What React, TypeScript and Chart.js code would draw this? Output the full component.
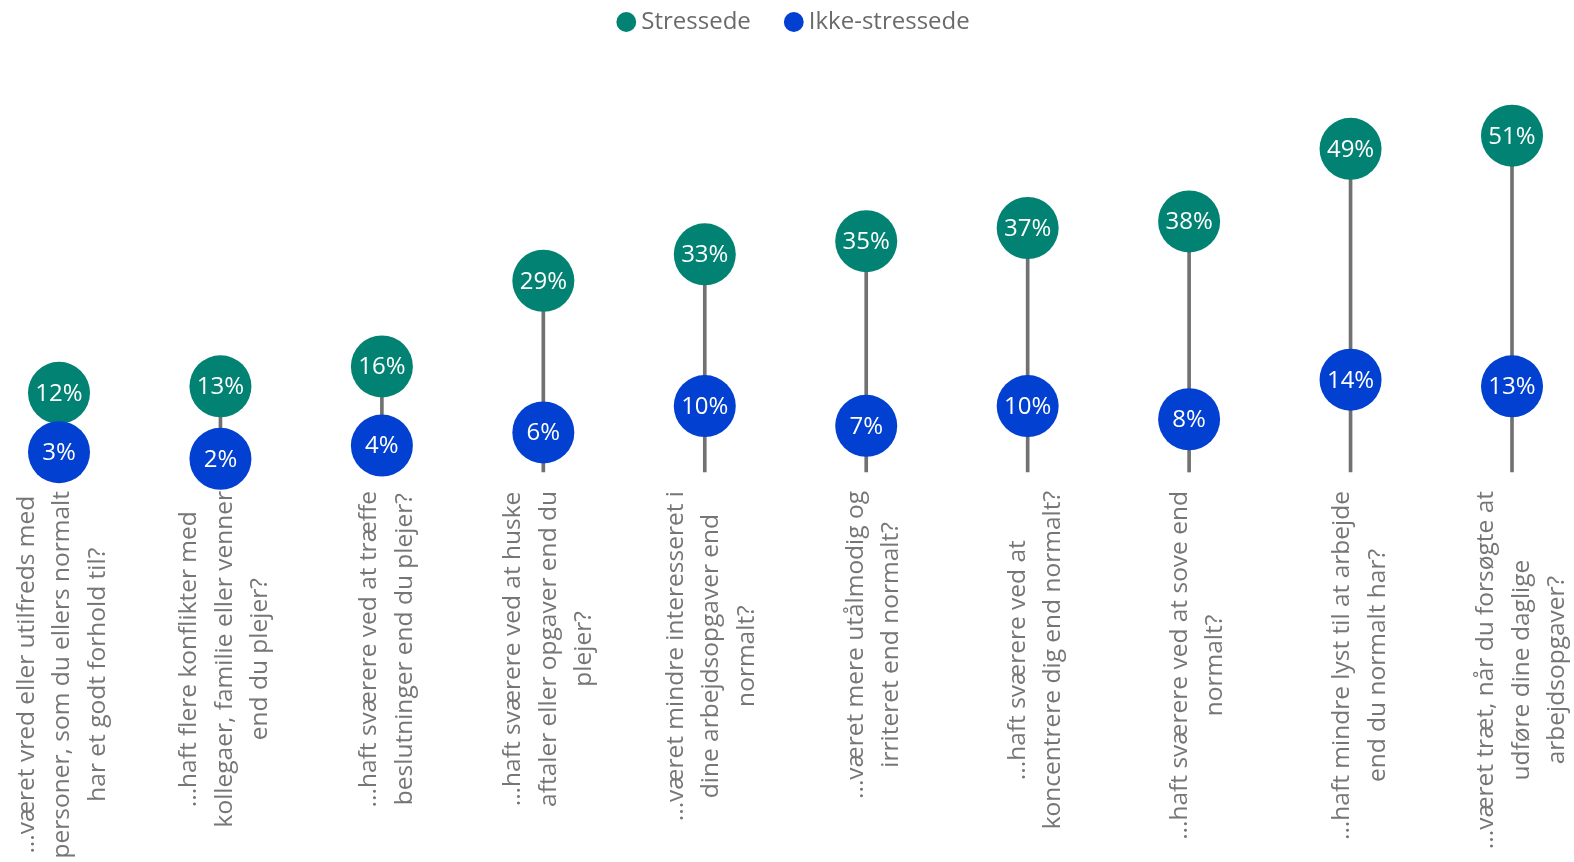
import React, { useEffect, useRef } from "react";
import { Chart, registerables } from "chart.js";

Chart.register(...registerables);

// ---- Data ----
const categories: string[][] = [
  ["...været vred eller utilfreds med", "personer, som du ellers normalt", "har et godt forhold til?"],
  ["...haft flere konflikter med", "kollegaer, familie eller venner", "end du plejer?"],
  ["...haft sværere ved at træffe", "beslutninger end du plejer?"],
  ["...haft sværere ved at huske", "aftaler eller opgaver end du", "plejer?"],
  ["...været mindre interesseret i", "dine arbejdsopgaver end", "normalt?"],
  ["...været mere utålmodig og", "irriteret end normalt?"],
  ["...haft sværere ved at", "koncentrere dig end normalt?"],
  ["...haft sværere ved at sove end", "normalt?"],
  ["...haft mindre lyst til at arbejde", "end du normalt har?"],
  ["...været træt, når du forsøgte at", "udføre dine daglige", "arbejdsopgaver?"],
];
const stressede: number[] = [12, 13, 16, 29, 33, 35, 37, 38, 49, 51];
const ikkeStressede: number[] = [3, 2, 4, 6, 10, 7, 10, 8, 14, 13];
const seriesNames: string[] = ["Stressede", "Ikke-stressede"];

// ---- Styles ----
const TEAL = "#018273";
const BLUE = "#0140D0";
const STEM = "#717171";
const LABEL_GRAY = "#767676";
const FONT = "'Open Sans', 'Noto Sans', sans-serif";

const xLabelsPlugin = {
  id: "xLabels",
  afterDraw(chart: any) {
    const ctx = chart.ctx as CanvasRenderingContext2D;
    const xs = chart.scales.x;
    const top = chart.chartArea.bottom + 19;
    const spacing = 35.5;
    ctx.save();
    ctx.font = `24.5px ${FONT}`;
    ctx.fillStyle = LABEL_GRAY;
    ctx.textAlign = "center";
    ctx.textBaseline = "middle";
    categories.forEach((lines, i) => {
      const x = xs.getPixelForValue(i) + 3.5 + i * 0.72;
      const w = Math.max(...lines.map((l) => ctx.measureText(l).width));
      ctx.save();
      ctx.translate(x, top);
      ctx.rotate(-Math.PI / 2);
      lines.forEach((line, j) => {
        ctx.fillText(line, -w / 2, (j - (lines.length - 1) / 2) * spacing);
      });
      ctx.restore();
    });
    ctx.restore();
  },
};

const valueLabelsPlugin = {
  id: "valueLabels",
  afterDatasetsDraw(chart: any) {
    const ctx = chart.ctx as CanvasRenderingContext2D;
    ctx.save();
    ctx.font = `24px ${FONT}`;
    ctx.fillStyle = "#ffffff";
    ctx.textAlign = "center";
    ctx.textBaseline = "middle";
    [0, 1].forEach((di) => {
      const meta = chart.getDatasetMeta(di);
      const vals = chart.data.datasets[di].data as number[];
      meta.data.forEach((el: any, i: number) => {
        ctx.fillText(`${vals[i]}%`, el.x, el.y + 1);
      });
    });
    ctx.restore();
  },
};

const legendShiftPlugin = {
  id: "legendShift",
  afterLayout(chart: any) {
    const lg = chart.legend;
    if (lg) {
      lg.left += 11;
      lg.right += 11;
    }
  },
};

export default function App() {
  const canvasRef = useRef<HTMLCanvasElement | null>(null);

  useEffect(() => {
    if (!canvasRef.current) return;
    const chart = new Chart(canvasRef.current, {
      type: "line",
      data: {
        labels: categories.map((c) => c.join(" ")),
        datasets: [
          {
            type: "line",
            label: seriesNames[0],
            data: stressede,
            showLine: false,
            pointRadius: 31,
            pointHoverRadius: 31,
            pointBackgroundColor: TEAL,
            pointBorderWidth: 0,
            backgroundColor: TEAL,
            borderColor: TEAL,
            clip: false,
            order: 1,
          } as any,
          {
            type: "line",
            label: seriesNames[1],
            data: ikkeStressede,
            showLine: false,
            pointRadius: 31,
            pointHoverRadius: 31,
            pointBackgroundColor: BLUE,
            pointBorderWidth: 0,
            backgroundColor: BLUE,
            borderColor: BLUE,
            clip: false,
            order: 0,
          } as any,
          {
            type: "bar",
            label: "stem",
            data: stressede,
            backgroundColor: STEM,
            barThickness: 3,
            clip: false,
            order: 2,
          } as any,
        ],
      },
      options: {
        animation: false,
        responsive: true,
        maintainAspectRatio: false,
        events: [],
        layout: { padding: { top: 0, left: 59, right: 62, bottom: 390 } },
        scales: {
          x: { display: false, offset: false },
          y: { display: false, min: 0, max: 64.9 },
        },
        plugins: {
          tooltip: { enabled: false },
          legend: {
            display: true,
            position: "top",
            align: "center",
            labels: {
              usePointStyle: true,
              pointStyle: "circle",
              boxWidth: 6,
              boxHeight: 14,
              padding: 10,
              color: "#6a6a6a",
              font: { family: FONT, size: 24 },
              filter: (item: any) => item.datasetIndex !== 2,
              sort: (a: any, b: any) => a.datasetIndex - b.datasetIndex,
              generateLabels: (ch: any) => {
                const items = Chart.defaults.plugins.legend.labels.generateLabels(ch);
                return items.map((it: any) => {
                  const ds = ch.data.datasets[it.datasetIndex];
                  const col = ds.pointBackgroundColor;
                  return {
                    ...it,
                    text: it.datasetIndex === 0 ? it.text + "\u2003\u2005" : it.text,
                    fillStyle: col,
                    strokeStyle: col,
                    lineWidth: 0,
                    pointStyle: "circle",
                  };
                });
              },
            },
          },
        },
      },
      plugins: [valueLabelsPlugin, xLabelsPlugin, legendShiftPlugin],
    });
    return () => chart.destroy();
  }, []);

  return (
    <div style={{ position: "absolute", left: 0, top: 0, width: 1574, height: 862, background: "#fff" }}>
      <canvas ref={canvasRef} />
    </div>
  );
}
